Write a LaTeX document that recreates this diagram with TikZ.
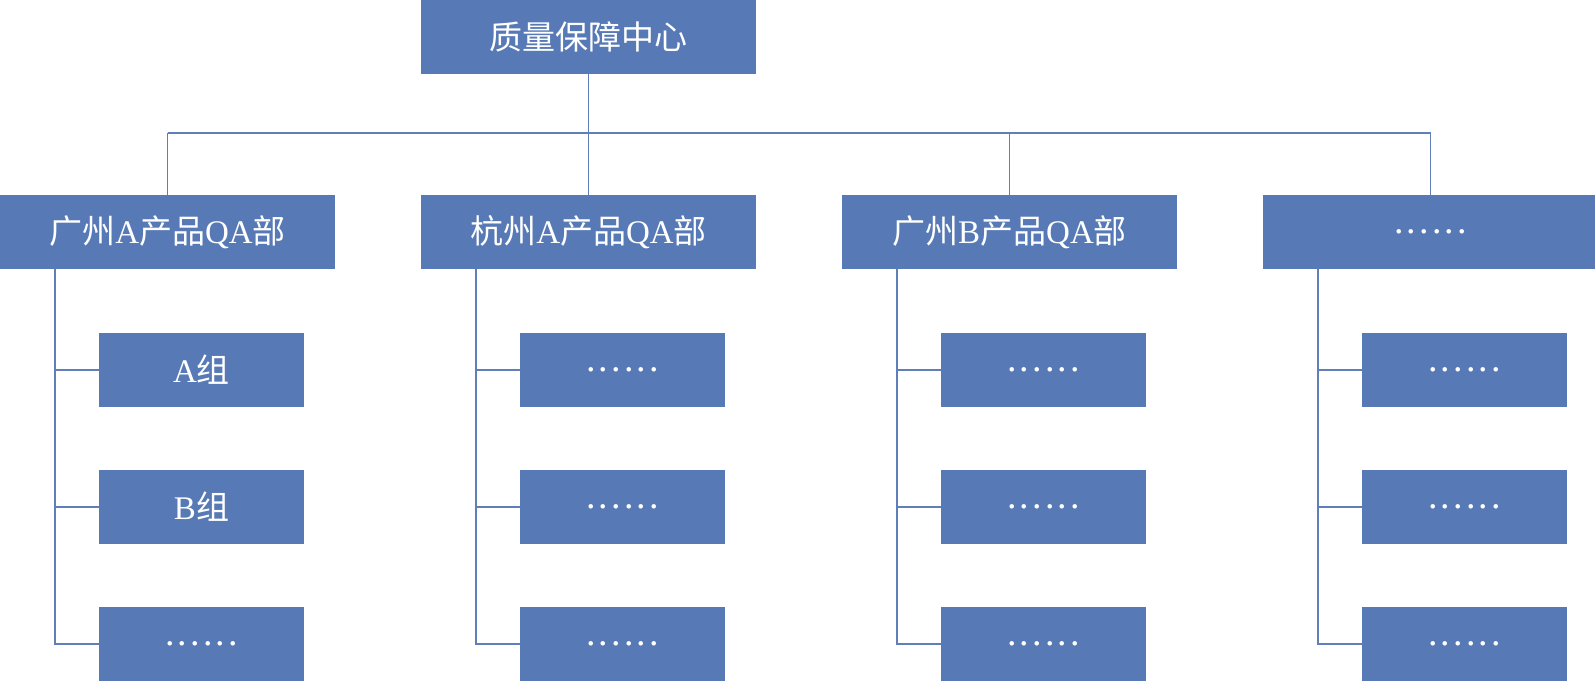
\documentclass[tikz,border=0pt]{standalone}
\usepackage{fontspec}
\setmainfont{Liberation Serif}
\newfontfamily\cjk{Noto Sans CJK SC}
\definecolor{boxblue}{RGB}{87,122,183}
\definecolor{linkblue}{RGB}{96,126,184}
\begin{document}
\begin{tikzpicture}[x=1pt,y=-1pt,
  box/.style={rectangle,fill=boxblue,draw=none,text=white,inner sep=0pt,font=\fontsize{33}{38}\selectfont},
  topbox/.style={box,minimum width=335pt,minimum height=74pt},
  deptbox/.style={box,minimum width=335pt,minimum height=74pt},
  groupbox/.style={box,minimum width=205pt,minimum height=74pt},
  link/.style={draw=linkblue,line width=1.6pt}]
\useasboundingbox (0,0) rectangle (1595,681);
\newcommand{\dd}{{\fontsize{38}{38}\selectfont.\hspace{0.08em}.\hspace{0.08em}.\hspace{0.08em}.\hspace{0.08em}.\hspace{0.08em}.}}
\node[topbox] (top) at (588.5,37) {\cjk 质量保障中心};
\node[deptbox] (d1) at (167.5,232) {{\cjk 广州}A{\cjk 产品}QA{\cjk 部}};
\node[deptbox] (d2) at (588.5,232) {{\cjk 杭州}A{\cjk 产品}QA{\cjk 部}};
\node[deptbox] (d3) at (1009.5,232) {{\cjk 广州}B{\cjk 产品}QA{\cjk 部}};
\node[deptbox] (d4) at (1430.5,232) {\dd};
\coordinate (bus) at (0,133);
\node[groupbox] (g1a) at (201.5,370) {A{\cjk 组}};
\node[groupbox] (g1b) at (201.5,507) {B{\cjk 组}};
\node[groupbox] (g1c) at (201.5,644) {\dd};
\foreach \i/\x in {2/421,3/842,4/1263}{
  \node[groupbox] (g\i a) at (\x+201.5,370) {\dd};
  \node[groupbox] (g\i b) at (\x+201.5,507) {\dd};
  \node[groupbox] (g\i c) at (\x+201.5,644) {\dd};
}
\foreach \i/\x in {1/0,2/421,3/842,4/1263}{
  \coordinate (v\i) at (\x+55,269);
}
\draw[link] (top.south) -- (top.south |- bus);
\draw[link] (d1.north |- bus) -- (d4.north |- bus);
\foreach \i in {1,2,3,4}{
  \draw[link] (d\i.north) -- (d\i.north |- bus);
  \draw[link] (v\i) |- (g\i c.west);
  \draw[link] (v\i |- g\i a.west) -- (g\i a.west);
  \draw[link] (v\i |- g\i b.west) -- (g\i b.west);
}
\end{tikzpicture}
\end{document}
